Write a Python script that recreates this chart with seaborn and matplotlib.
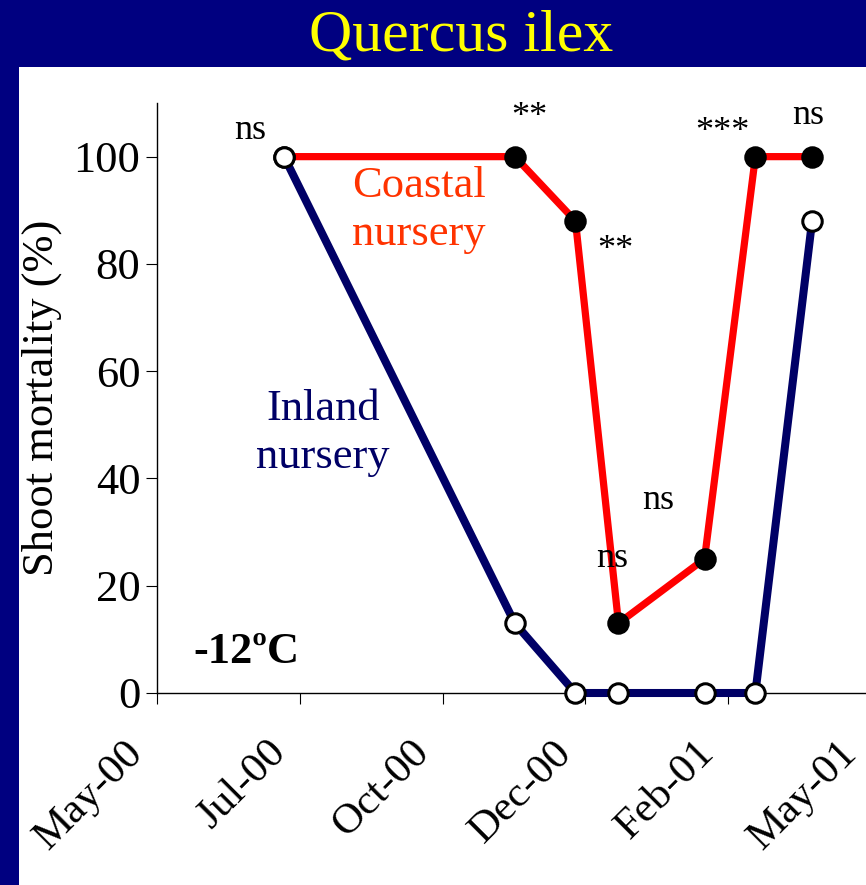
import matplotlib
matplotlib.use("Agg")
import matplotlib.pyplot as plt
from matplotlib.patches import Rectangle
from matplotlib.transforms import ScaledTranslation
import pandas as pd
import seaborn as sns

# Sampling dates and shoot mortality (%) after freezing at -12 ºC
sample_dates = ["2000-07-14", "2000-11-09", "2000-12-10", "2001-01-01",
                "2001-02-14", "2001-03-12", "2001-04-10"]
coastal = [100, 100, 88, 13, 25, 100, 100]
inland = [100, 13, 0, 0, 0, 0, 88]
significance = ["ns", "**", "**", "ns", "ns", "***", "ns"]

tick_dates = ["2000-05-10", "2000-07-22", "2000-10-03", "2000-12-15",
              "2001-02-26", "2001-05-10"]
y_ticks = [0, 20, 40, 60, 80, 100]

NAVY_BG = "#000080"
NAVY = "#000066"
RED = "#FF0000"

sns.set_style("ticks")
plt.rcParams["font.family"] = ["Liberation Serif", "DejaVu Serif"]

dates = pd.to_datetime(sample_dates)
ticks = pd.to_datetime(tick_dates)
df = pd.DataFrame({"date": dates, "coastal": coastal, "inland": inland})

W, H, DPI = 866, 885, 100
fig = plt.figure(figsize=(W / DPI, H / DPI), dpi=DPI, facecolor=NAVY_BG)
fig.patches.append(Rectangle((19 / W, 0), 1, (H - 67) / H, transform=fig.transFigure,
                             facecolor="white", edgecolor="none", zorder=-1))

left, right, bottom, top = 157, 870.75, 693, 103
ax = fig.add_axes([left / W, (H - bottom) / H, (right - left) / W, (bottom - top) / H])
ax.set_facecolor("none")

sns.lineplot(data=df, x="date", y="coastal", ax=ax, color=RED, linewidth=5.2,
             marker="o", markersize=14, markerfacecolor="black",
             markeredgecolor="black", markeredgewidth=2.2, clip_on=False, zorder=3)
sns.lineplot(data=df, x="date", y="inland", ax=ax, color=NAVY, linewidth=5.8,
             marker="o", markersize=14, markerfacecolor="white",
             markeredgecolor="black", markeredgewidth=2.2, clip_on=False, zorder=4)

ax.set_xlim(ticks[0], ticks[-1])
ax.set_ylim(0, 110)
ax.set_yticks(y_ticks)
ax.set_xticks(ticks, labels=[t.strftime("%b-%y") for t in ticks])
ax.set_xlabel("")
ax.set_ylabel("Shoot mortality (%)", fontsize=32, color="black")
ax.yaxis.set_label_coords(-0.162, 0.5)
ax.yaxis.label.set_va("center")

for side in ("top", "right"):
    ax.spines[side].set_visible(False)
for side in ("left", "bottom"):
    ax.spines[side].set_linewidth(1.0)
    ax.spines[side].set_color("black")

ax.tick_params(axis="y", direction="out", length=8, width=0.8, pad=4,
               labelsize=32, colors="black")
ax.tick_params(axis="x", direction="out", length=8, width=0.8, pad=21,
               labelsize=31, colors="black")
shift = ScaledTranslation(-6 / DPI, 0, fig.dpi_scale_trans)
for lbl in ax.get_xticklabels():
    lbl.set_rotation(45)
    lbl.set_ha("right")
    lbl.set_va("top")
    lbl.set_transform(lbl.get_transform() + shift)

# Significance of the difference between nurseries at each date
sig_offsets = [(-34, 18), (15, 31), (40, -38), (-6, 56), (-46, 50), (-33, 16), (-4, 33)]
for d, v, s, off in zip(dates, coastal, significance, sig_offsets):
    ax.annotate(s, xy=(d, v), xytext=off, textcoords="offset pixels",
                ha="center", va="baseline", fontsize=26, color="black",
                annotation_clip=False, zorder=5)

ax.text(0.367, 0.7593, "Coastal\nnursery", transform=ax.transAxes, ha="center",
        va="baseline", fontsize=32, color="#FF3300", linespacing=1.27)
ax.text(0.2326, 0.3814, "Inland\nnursery", transform=ax.transAxes, ha="center",
        va="baseline", fontsize=32, color=NAVY, linespacing=1.27)
ax.text(0.1247, 0.0508, "-12ºC", transform=ax.transAxes, ha="center",
        va="baseline", fontsize=32, fontweight="bold", color="black")

fig.text(461 / W, (H - 50) / H, "Quercus ilex", ha="center", va="baseline",
         fontsize=43, color="#FFFF00")

fig.savefig("out.png", dpi=DPI, facecolor=fig.get_facecolor())
